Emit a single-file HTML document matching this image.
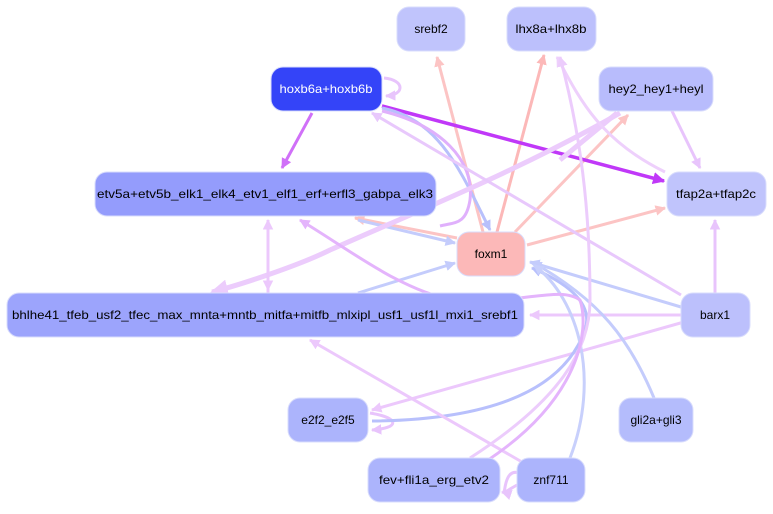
<!DOCTYPE html>
<html><head><meta charset="utf-8"><style>
body{margin:0;background:#fff;width:773px;height:509px;overflow:hidden}
text{font-family:"Liberation Sans",sans-serif;font-size:12px;text-anchor:middle;dominant-baseline:central}
</style></head><body>
<svg width="773" height="509" viewBox="0 0 773 509">
<defs>
<marker id="a" viewBox="0 0 10 10" refX="9" refY="5" markerWidth="3.5" markerHeight="3.5" orient="auto" markerUnits="strokeWidth"><path d="M0,0L10,5L0,10z" fill="context-stroke"/></marker>
</defs>
<g fill="none" stroke-width="3" marker-end="url(#a)">
<path d="M483,232 L437,57" stroke="#fcc4c4"/>
<path d="M497,232 L544,55" stroke="#fcb8b8"/>
<path d="M515,232 L628,115" stroke="#fcc4c4"/>
<path d="M527,245 L665,208" stroke="#fcc4c4"/>
<path d="M457,238 L355,218" stroke="#fcc4c4"/>
<path d="M382,106 L664,181" stroke="#c038f8" stroke-width="3.5"/>
<path d="M312,113 L282,168" stroke="#d070f8"/>
<path d="M384,78 C405,80 405,95 386,96" stroke="#e8c4fc"/>
<path d="M382,108 C440,120 460,170 490,230" stroke="#b8c0fc"/>
<path d="M382,111 C440,125 475,160 470,200 C466,225 455,222 440,226" stroke="#e0b0fc" marker-end="none"/>
<path d="M358,220 L455,243" stroke="#c4ccfc"/>
<path d="M358,293 L455,263" stroke="#c4ccfc"/>
<path d="M620,113 C520,170 420,210 330,250 C300,265 240,285 212,292" stroke="#ecccfc" stroke-width="5"/>
<path d="M617,113 L560,160" stroke="#ecccfc" stroke-width="5" marker-end="none"/>
<path d="M672,111 L700,168" stroke="#e8c4fc"/>
<path d="M665,172 C600,140 580,100 557,57" stroke="#eed0fc"/>
<path d="M715,293 L715,220" stroke="#e8c4fc"/>
<path d="M681,295 L372,113" stroke="#e8c8fc"/>
<path d="M681,307 L530,262" stroke="#c4ccfc"/>
<path d="M681,315 L530,315" stroke="#ecc8fc"/>
<path d="M684,322 L372,410" stroke="#ecc8fc"/>
<path d="M370,413 C400,418 400,428 372,430" stroke="#e8c4fc"/>
<path d="M372,421 C470,420 560,400 585,330 C595,300 560,280 532,268" stroke="#b8c0fc"/>
<path d="M654,398 C630,340 600,300 532,262" stroke="#c4ccfc"/>
<path d="M570,458 C600,380 580,300 534,265" stroke="#c8d0fc"/>
<path d="M522,462 L310,340" stroke="#ecc8fc"/>
<path d="M519,473 C505,468 505,492 504,492" stroke="#e8c4fc" marker-end="none"/>
<path d="M517,485 C508,490 505,493 502,492" stroke="#e8c4fc"/>
<path d="M470,458 C560,400 590,350 590,300 C590,230 585,150 560,57" stroke="#ecccfc"/>
<path d="M485,462 C580,400 590,330 580,300 C560,285 520,305 453,300 C400,290 350,250 300,220" stroke="#e4b4fc"/>
<path d="M268,293 L268,220" stroke="#ecc8fc"/>
<path d="M268,260 L268,290" stroke="#ecc8fc"/>
</g>
<g stroke="#d8dcfc" stroke-width="1">
<rect x="397" y="7" width="68" height="44" rx="12" fill="#c0c4fc"/>
<rect x="507" y="7" width="89" height="44" rx="12" fill="#bcc0fc"/>
<rect x="271" y="67" width="111" height="44" rx="12" fill="#3444f8"/>
<rect x="599" y="67" width="114" height="44" rx="12" fill="#b8bcfc"/>
<rect x="95" y="172" width="341" height="44" rx="12" fill="#949cfc"/>
<rect x="667" y="172" width="99" height="44" rx="12" fill="#c0c4fc"/>
<rect x="457" y="232" width="68" height="44" rx="12" fill="#fcb8b8"/>
<rect x="7" y="293" width="517" height="44" rx="12" fill="#9ca4fc"/>
<rect x="681" y="293" width="69" height="44" rx="12" fill="#bcc0fc"/>
<rect x="288" y="398" width="80" height="44" rx="12" fill="#acb4fc"/>
<rect x="619" y="398" width="74" height="44" rx="12" fill="#b4bcfc"/>
<rect x="368" y="458" width="132" height="44" rx="12" fill="#acb4fc"/>
<rect x="517" y="458" width="68" height="44" rx="12" fill="#acb4fc"/>
</g>
<g fill="#000">
<text x="431" y="29">srebf2</text>
<text x="551" y="29" textLength="71" lengthAdjust="spacingAndGlyphs">lhx8a+lhx8b</text>
<text x="326" y="89" fill="#fff" textLength="93" lengthAdjust="spacingAndGlyphs">hoxb6a+hoxb6b</text>
<text x="656" y="89" textLength="95" lengthAdjust="spacingAndGlyphs">hey2_hey1+heyl</text>
<text x="265" y="194" textLength="336" lengthAdjust="spacingAndGlyphs">etv5a+etv5b_elk1_elk4_etv1_elf1_erf+erfl3_gabpa_elk3</text>
<text x="716" y="194" textLength="80" lengthAdjust="spacingAndGlyphs">tfap2a+tfap2c</text>
<text x="491" y="254">foxm1</text>
<text x="265" y="315" textLength="506" lengthAdjust="spacingAndGlyphs">bhlhe41_tfeb_usf2_tfec_max_mnta+mntb_mitfa+mitfb_mlxipl_usf1_usf1l_mxi1_srebf1</text>
<text x="715" y="315">barx1</text>
<text x="328" y="420">e2f2_e2f5</text>
<text x="656" y="420">gli2a+gli3</text>
<text x="434" y="480" textLength="110" lengthAdjust="spacingAndGlyphs">fev+fli1a_erg_etv2</text>
<text x="551" y="480">znf711</text>
</g>
</svg>
</body></html>
